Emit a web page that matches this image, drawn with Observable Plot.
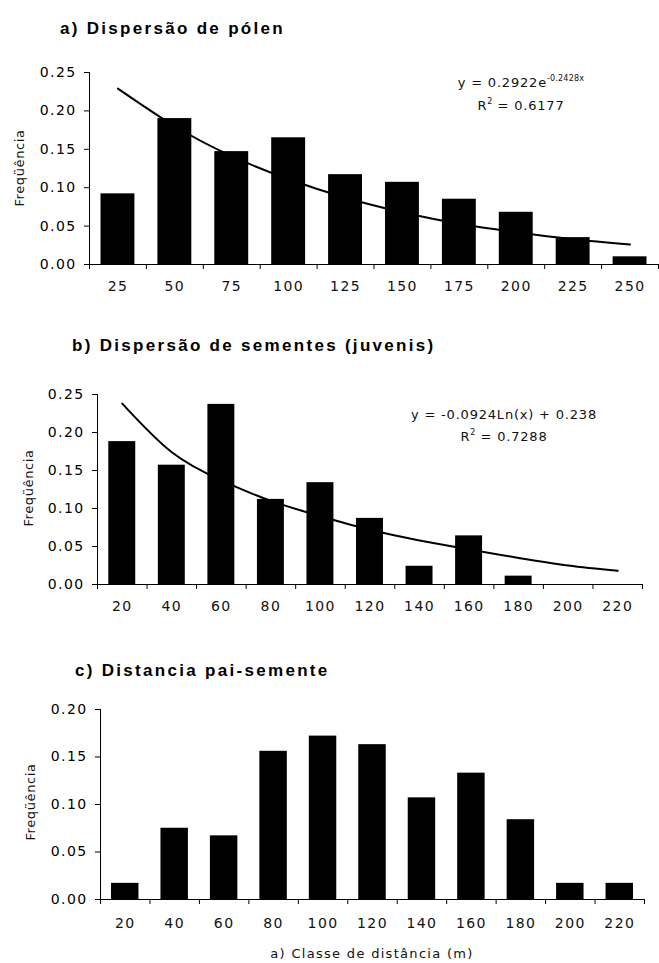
<!DOCTYPE html>
<html><head><meta charset="utf-8">
<script src="https://cdn.jsdelivr.net/npm/d3@7"></script>
<script src="https://cdn.jsdelivr.net/npm/@observablehq/plot@0.6"></script>
<style>
body{margin:0;background:#fff;}
#root{position:relative;width:659px;height:963px;background:#fff;overflow:hidden;font-family:"DejaVu Sans";color:#111}
.title{position:absolute;font-family:"Liberation Sans",Arial,sans-serif;font-weight:bold;font-size:17px;letter-spacing:2.3px;white-space:nowrap;line-height:1;transform:translateY(-50%);color:#000}
.ylab{position:absolute;font-size:13px;letter-spacing:0.6px;white-space:nowrap;line-height:1;transform:translate(-50%,-50%) rotate(-90deg)}
.eq{position:absolute;font-size:13px;letter-spacing:0.8px;white-space:nowrap;line-height:1;transform:translate(-50%,-50%);text-align:center}
.eq sup{font-size:8px;letter-spacing:0.2px;vertical-align:6px;line-height:0}
.xlab{position:absolute;font-size:13px;letter-spacing:1.3px;white-space:nowrap;line-height:1;transform:translate(-50%,-50%)}
.panel{position:absolute;left:0}
</style></head><body><div id="root"></div>
<script>
// ---- data ----
const classesA = ["25","50","75","100","125","150","175","200","225","250"];
const freqA = [0.092, 0.190, 0.147, 0.165, 0.117, 0.107, 0.085, 0.068, 0.035, 0.010];
const trendA = [0.229, 0.180, 0.141, 0.111, 0.087, 0.068, 0.053, 0.042, 0.033, 0.026];
const classesB = ["20","40","60","80","100","120","140","160","180","200","220"];
const freqB = [0.188, 0.157, 0.237, 0.112, 0.134, 0.087, 0.024, 0.064, 0.011, 0, 0];
const trendB = [0.238, 0.174, 0.137, 0.110, 0.090, 0.072, 0.058, 0.046, 0.035, 0.025, 0.018];
const classesC = ["20","40","60","80","100","120","140","160","180","200","220"];
const freqC = [0.017, 0.075, 0.067, 0.156, 0.172, 0.163, 0.107, 0.133, 0.084, 0.017, 0.017];
const yTicksAB = [0, 0.05, 0.10, 0.15, 0.20, 0.25];
const yTicksC = [0, 0.05, 0.10, 0.15, 0.20];
const titles = ["a) Dispersão de pólen", "b) Dispersão de sementes (juvenis)", "c) Distancia pai-semente"];
const yLabel = "Freqüência";
const xLabel = "a) Classe de distância (m)";

const root = document.getElementById("root");

function makePanel(o) {
  const n = o.categories.length;
  const rows = o.values.map((v, i) => ({x1: i, x2: i + 1, xc: i + 0.5, v, c: o.categories[i]}));
  const trendRows = o.trend ? o.trend.map((v, i) => ({x: i + 0.5, v})) : [];
  const chart = Plot.plot({
    width: 659, height: o.height,
    marginTop: o.marginTop, marginBottom: o.marginBottom,
    marginLeft: o.marginLeft, marginRight: o.marginRight,
    style: {fontFamily: "DejaVu Sans", fontSize: "14px", letterSpacing: "1.4px", color: "#000", background: "transparent", overflow: "visible"},
    x: {type: "linear", domain: [0, n], ticks: d3.range(n + 1), tickFormat: () => "", tickSize: 5, label: null},
    y: {domain: [0, o.yMax], ticks: o.yTicks, tickFormat: d3.format(".2f"), tickSize: 5, tickPadding: 8, label: null},
    marks: [
      Plot.rectY(rows, {x1: "x1", x2: "x2", y: "v", fill: "#000", insetLeft: o.inset, insetRight: o.inset}),
      o.trend ? Plot.line(trendRows, {x: "x", y: "v", curve: "natural", stroke: "#000", strokeWidth: 2}) : null,
      Plot.ruleY([0], {stroke: "#000"}),
      Plot.ruleX([0], {stroke: "#000"}),
      Plot.text(rows, {x: "xc", y: 0, text: "c", dy: o.labelDy, fill: "#111"})
    ]
  });
  chart.classList.add("panel");
  chart.style.top = o.top + "px";
  root.appendChild(chart);
}

function addDiv(cls, html, left, top) {
  const d = document.createElement("div");
  d.className = cls;
  d.innerHTML = html;
  d.style.left = left + "px";
  d.style.top = top + "px";
  root.appendChild(d);
  return d;
}

makePanel({top: 60, height: 240, marginTop: 12, marginBottom: 36, marginLeft: 89, marginRight: 1,
  categories: classesA, values: freqA, trend: trendA, yMax: 0.25, yTicks: yTicksAB, labelDy: 22, inset: 11.5});
makePanel({top: 380, height: 240, marginTop: 14, marginBottom: 36, marginLeft: 97, marginRight: 17,
  categories: classesB, values: freqB, trend: trendB, yMax: 0.25, yTicks: yTicksAB, labelDy: 22, inset: 11.3});
makePanel({top: 695, height: 240, marginTop: 14, marginBottom: 36, marginLeft: 100, marginRight: 15,
  categories: classesC, values: freqC, trend: null, yMax: 0.20, yTicks: yTicksC, labelDy: 24, inset: 11});

addDiv("title", titles[0], 60, 28);
addDiv("title", titles[1], 72, 345);
addDiv("title", titles[2], 75, 670);
addDiv("ylab", yLabel, 19, 168);
addDiv("ylab", yLabel, 28, 488);
addDiv("ylab", yLabel, 30, 802);
addDiv("eq", "y = 0.2922e<sup>-0.2428x</sup>", 521, 82);
addDiv("eq", "R<sup>2</sup> = 0.6177", 521, 105);
addDiv("eq", "y = -0.0924Ln(x) + 0.238", 504, 414);
addDiv("eq", "R<sup>2</sup> = 0.7288", 504, 436);
addDiv("xlab", xLabel, 372, 953);
</script>
</body></html>
